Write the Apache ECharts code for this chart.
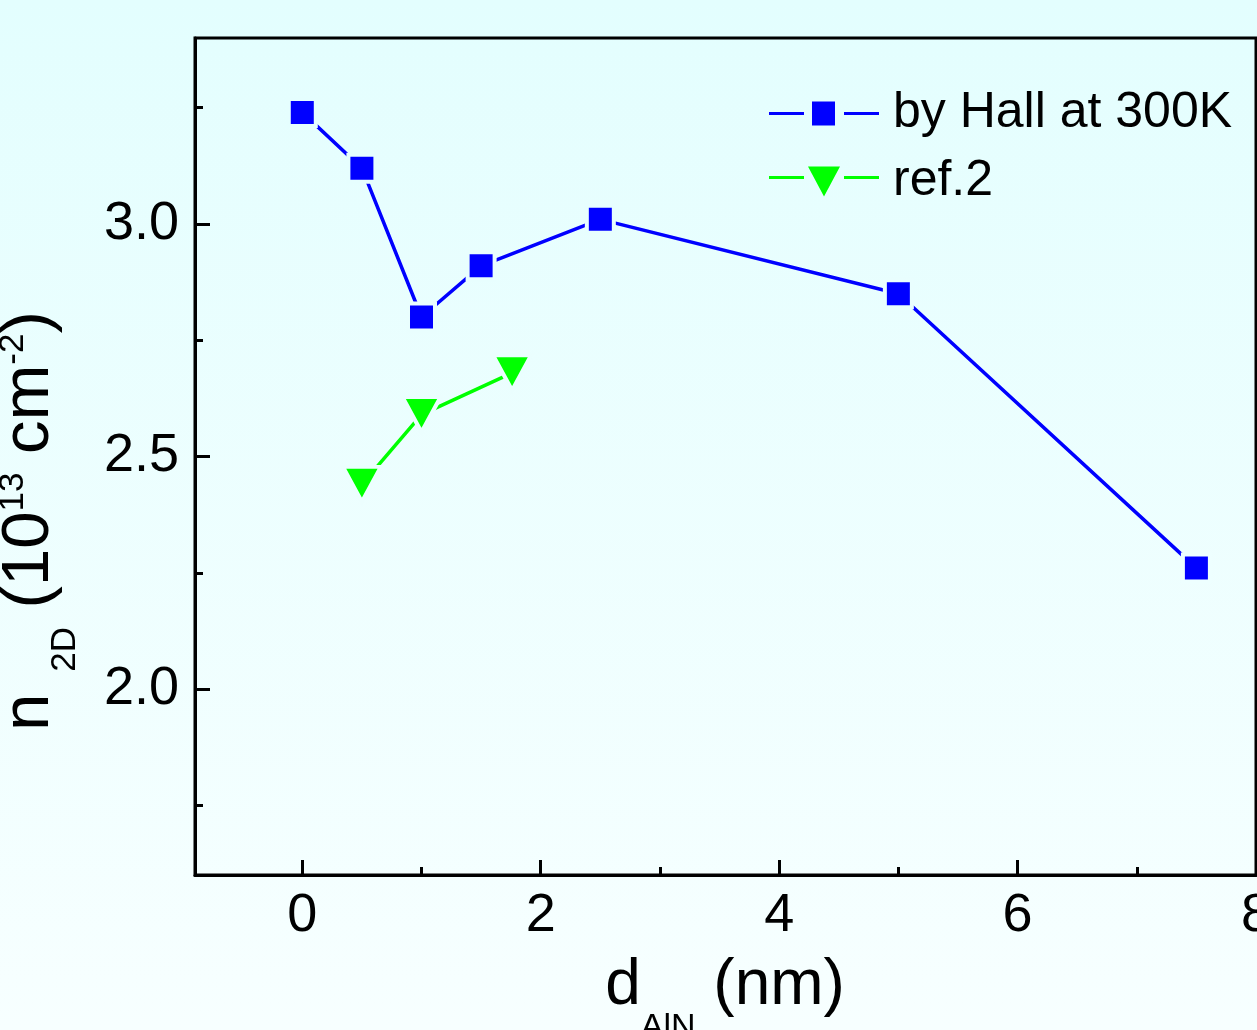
<!DOCTYPE html>
<html><head><meta charset="utf-8">
<script src="https://cdn.jsdelivr.net/npm/echarts@6/dist/echarts.min.js"></script>
<style>
html,body{margin:0;padding:0;}
#c{width:1257px;height:1030px;background:linear-gradient(to bottom,#E3FEFE,#F7FFFF);}
</style>
</head><body><div id="c"></div>
<script>
// ---- data ----
const hallX = [0, 0.5, 1, 1.5, 2.5, 5, 7.5];
const hallY = [3.24, 3.12, 2.80, 2.91, 3.01, 2.85, 2.26];
const ref2X = [0.5, 1, 1.76];
const ref2Y = [2.44, 2.59, 2.68];
const seriesNames = ['by Hall at 300K', 'ref.2'];
const xMajorTicks = [0, 2, 4, 6, 8];
const xMinorTicks = [1, 3, 5, 7];
const yMajorTicks = [2.0, 2.5, 3.0];
const yMinorTicks = [1.75, 2.25, 2.75, 3.25];
const xRange = [-0.9, 8];
const yRange = [1.6, 3.4];

const FONT = '"Liberation Sans", Arial, sans-serif';
const BG_TOP = [0xE3, 0xFE, 0xFE], BG_BOT = [0xF7, 0xFF, 0xFF], H = 1030;
function bgAt(py) {
  const t = Math.max(0, Math.min(1, py / H));
  const c = BG_TOP.map((a, i) => Math.round(a + (BG_BOT[i] - a) * t));
  return 'rgb(' + c.join(',') + ')';
}
const chart = echarts.init(document.getElementById('c'), null, {renderer: 'canvas'});
const axisLineStyle = {color: '#000', width: 3};

function xAx(ticks, len, withLabels, showLine) {
  return {
    type: 'value', min: xRange[0], max: xRange[1], position: 'bottom',
    axisLine: {show: showLine, onZero: false, lineStyle: axisLineStyle},
    axisTick: {show: true, inside: true, length: len, customValues: ticks, lineStyle: axisLineStyle},
    axisLabel: withLabels ? {show: true, customValues: ticks, fontSize: 54, color: '#000', margin: 14, fontFamily: FONT,
      formatter: v => String(v)} : {show: false},
    splitLine: {show: false}, minorTick: {show: false}
  };
}
function yAx(ticks, len, withLabels, showLine) {
  return {
    type: 'value', min: yRange[0], max: yRange[1], position: 'left',
    axisLine: {show: showLine, onZero: false, lineStyle: axisLineStyle},
    axisTick: {show: true, inside: true, length: len, customValues: ticks, lineStyle: axisLineStyle},
    axisLabel: withLabels ? {show: true, customValues: ticks, fontSize: 54, color: '#000', margin: 16, fontFamily: FONT,
      formatter: v => Number(v).toFixed(1)} : {show: false},
    splitLine: {show: false}, minorTick: {show: false}
  };
}

const rich = {
  m: {fontSize: 64, lineHeight: 120, fontFamily: FONT, color: '#000'},
  s: {fontSize: 34, lineHeight: 34, fontFamily: FONT, color: '#000', verticalAlign: 'top', padding: [85, 0, 0, 0]},
  ym: {fontSize: 67, lineHeight: 120, fontFamily: FONT, color: '#000'},
  ys: {fontSize: 35, lineHeight: 35, fontFamily: FONT, color: '#000', verticalAlign: 'top', padding: [78, 0, 0, 22]},
  yp: {fontSize: 35, lineHeight: 35, fontFamily: FONT, color: '#000', verticalAlign: 'top', padding: [26, 0, 0, 0]}
};

// legend icons: line - marker - line (with small gaps), as filled paths
const ICON_SQ = 'path://M0,0L110,0Z M0,30L110,30Z M0,13.5L35,13.5L35,16.5L0,16.5Z M43,3L66,3L66,27L43,27Z M75,13.5L110,13.5L110,16.5L75,16.5Z';
const ICON_TRI = 'path://M0,0L110,0Z M0,30L110,30Z M0,9.5L35,9.5L35,12.5L0,12.5Z M39,0L71,0L55,30Z M75,9.5L110,9.5L110,12.5L75,12.5Z';

const baseOption = {
  animation: false,
  backgroundColor: 'transparent',
  grid: {left: 195, top: 38, right: 1, bottom: 155, show: true, borderColor: '#000', borderWidth: 3,
    backgroundColor: 'transparent', containLabel: false, outerBoundsMode: 'none'},
  xAxis: [xAx(xMajorTicks, 15, true, true), xAx(xMinorTicks, 8, false, false)],
  yAxis: [yAx(yMajorTicks, 15, true, true), yAx(yMinorTicks, 8, false, false)],
  legend: {
    orient: 'vertical', left: 769, top: 88.5, padding: 0,
    itemWidth: 110, itemHeight: 30, itemGap: 18,
    itemStyle: {borderWidth: 0},
    textStyle: {fontSize: 50, lineHeight: 50, color: '#000', fontFamily: FONT, padding: [0, 0, 0, 9]},
    data: [{name: seriesNames[0], icon: ICON_SQ}, {name: seriesNames[1], icon: ICON_TRI}]
  },
  graphic: [
    {type: 'text', x: 725, y: 926, silent: true,
      style: {text: '{m|d}{s|AlN}{m| (nm)}', rich: rich, align: 'center', verticalAlign: 'top'}},
    {type: 'text', x: -30, y: 731, rotation: Math.PI / 2, silent: true,
      style: {text: '{ym|n}{ys|2D}{ym| (10}{yp|13}{ym| cm}{yp|-2}{ym|)}', rich: rich, align: 'left', verticalAlign: 'top'}}
  ],
  series: [
    {
      name: seriesNames[0], type: 'line', xAxisIndex: 0, yAxisIndex: 0,
      data: hallX.map((x, i) => [x, hallY[i]]),
      symbol: 'rect', symbolSize: 27,
      lineStyle: {color: '#0000FF', width: 3.5},
      itemStyle: {color: '#0000FF', borderWidth: 4, borderColor: bgAt(300)}
    },
    {
      name: seriesNames[1], type: 'line', xAxisIndex: 0, yAxisIndex: 0,
      data: ref2X.map((x, i) => [x, ref2Y[i]]),
      symbol: 'path://M0,0L2,0L1,2Z', symbolSize: [38, 35], symbolKeepAspect: false,
      lineStyle: {color: '#00FF00', width: 3.5},
      itemStyle: {color: '#00FF00', borderWidth: 4, borderColor: bgAt(400)}
    }
  ]
};
chart.setOption(baseOption);

// halo (gap) around markers in the local background colour
function withHalo(xs, ys) {
  return xs.map((x, i) => {
    const p = chart.convertToPixel({gridIndex: 0}, [x, ys[i]]);
    return {value: [x, ys[i]], itemStyle: {borderColor: bgAt(p[1])}};
  });
}
chart.setOption({series: [{data: withHalo(hallX, hallY)}, {data: withHalo(ref2X, ref2Y)}]});
</script>
</body></html>
